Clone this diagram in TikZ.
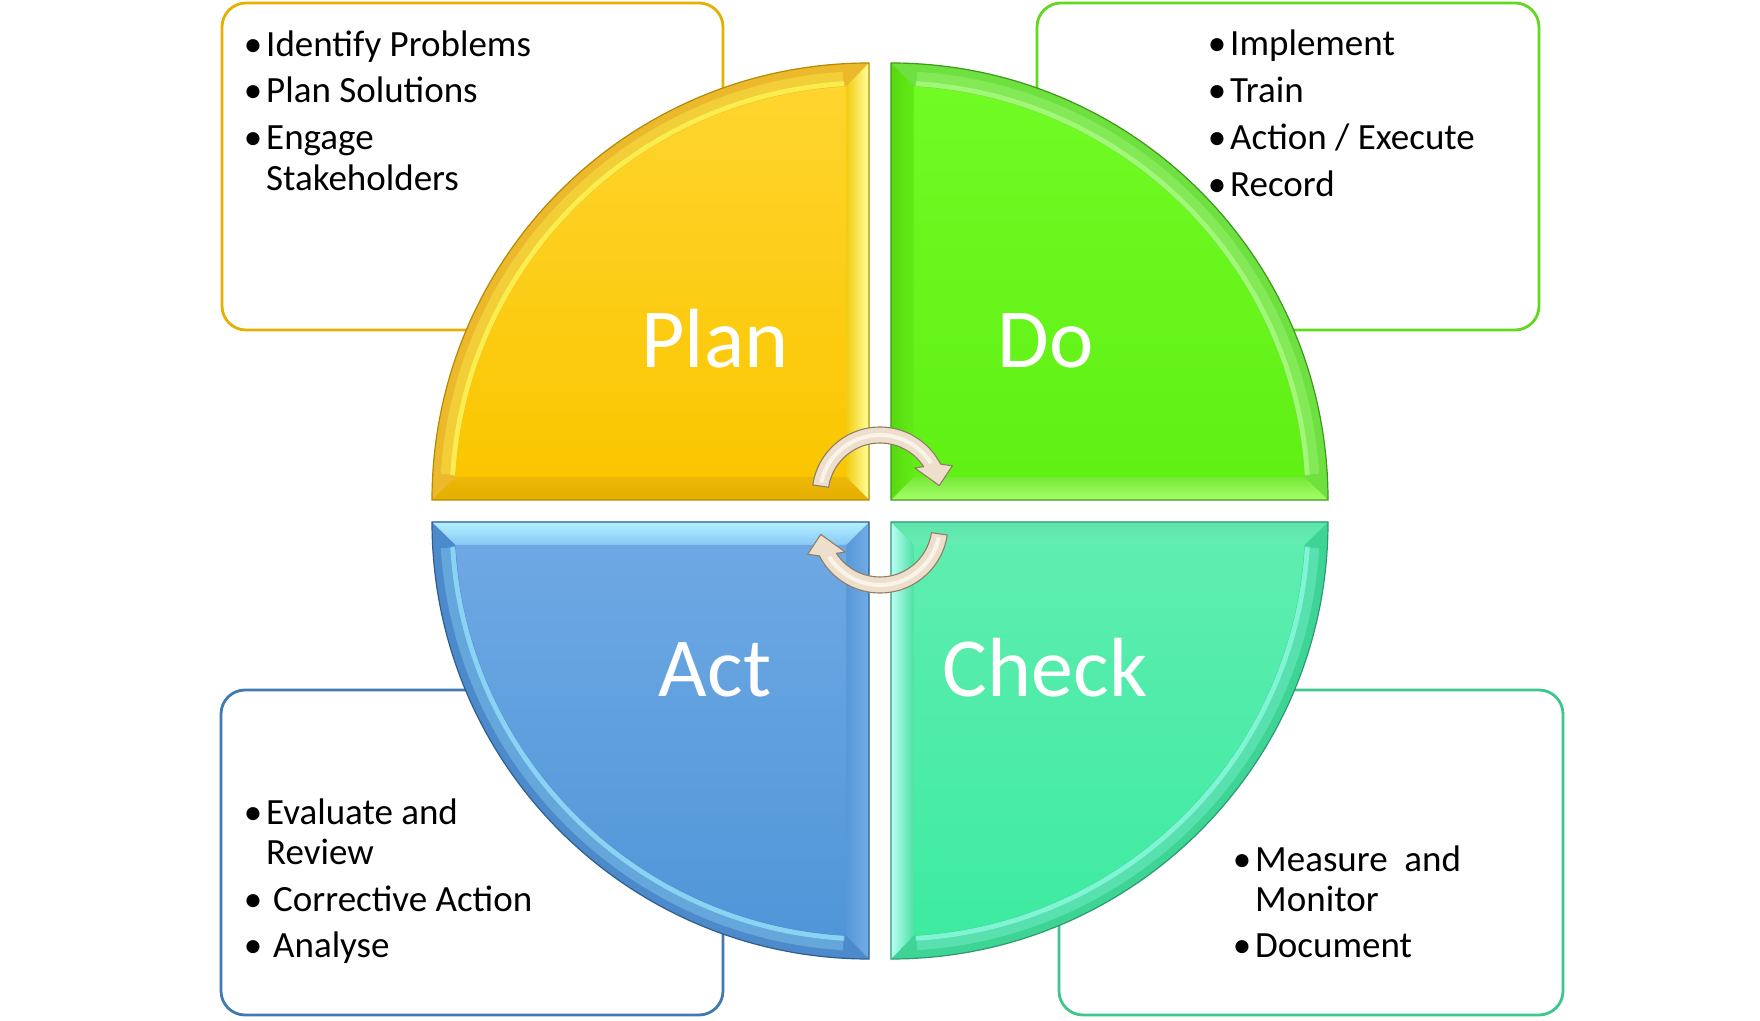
\documentclass[tikz,border=0pt]{standalone}
\usepackage{fontspec}
\setmainfont{Carlito}
\usetikzlibrary{calc}
\definecolor{planline}{HTML}{B38A00}
\definecolor{planarc}{HTML}{EDB92C}
\definecolor{planhi}{HTML}{FFFF5A}
\definecolor{planrl}{HTML}{F2CC10}
\definecolor{planrr}{HTML}{FFFFA0}
\definecolor{planbt}{HTML}{EDB808}
\definecolor{planbb}{HTML}{E4AE00}
\definecolor{planct}{HTML}{FFD52E}
\definecolor{plancb}{HTML}{FAC600}
\definecolor{doline}{HTML}{3C9A1A}
\definecolor{doarc}{HTML}{6EE040}
\definecolor{dohi}{HTML}{B4FF8C}
\definecolor{dol1}{HTML}{58D810}
\definecolor{dol2}{HTML}{62EC18}
\definecolor{dob1}{HTML}{78E838}
\definecolor{dob2}{HTML}{A4FF6A}
\definecolor{doct}{HTML}{70FB24}
\definecolor{docb}{HTML}{60F014}
\definecolor{actline}{HTML}{2F5E8E}
\definecolor{actarc}{HTML}{4C8ACB}
\definecolor{acthi}{HTML}{A0ECFF}
\definecolor{actr1}{HTML}{5898D8}
\definecolor{actr2}{HTML}{70ACE6}
\definecolor{actt1}{HTML}{B4F0FF}
\definecolor{actt2}{HTML}{88C8F4}
\definecolor{actct}{HTML}{6EA8E4}
\definecolor{actcb}{HTML}{5096D8}
\definecolor{chkline}{HTML}{2E9A70}
\definecolor{chkarc}{HTML}{3ED496}
\definecolor{chkhi}{HTML}{96FFEA}
\definecolor{chkl1}{HTML}{B8FFF4}
\definecolor{chkl2}{HTML}{4EE0A4}
\definecolor{chkt1}{HTML}{5EE4AA}
\definecolor{chkt2}{HTML}{66EEB4}
\definecolor{chkct}{HTML}{5EEDB0}
\definecolor{chkcb}{HTML}{3DEBA0}
\definecolor{boxP}{HTML}{E6B000}
\definecolor{boxD}{HTML}{62D81E}
\definecolor{boxA}{HTML}{4379B3}
\definecolor{boxC}{HTML}{3DC78C}
\definecolor{arrfill}{HTML}{EDDFCB}
\definecolor{arrline}{HTML}{8F7D66}
\definecolor{arrhi}{HTML}{FBF6EE}
\tikzset{
  tbox/.style={draw, line width=2.8pt, rounded corners=24pt, fill=white, inner sep=0pt},
  boxtxt/.style={anchor=base west, inner sep=0pt, text=black, font=\fontsize{37}{44}\selectfont},
  bul/.style={anchor=base, inner sep=0pt, text=black, font=\fontsize{37}{44}\selectfont},
  biglabel/.style={anchor=base, inner sep=0pt, text=white, font=\fontsize{84}{100}\selectfont},
  qline/.style={line width=1.2pt},
  hiline/.style={line width=5pt, opacity=0.65},
  softhi/.style={line width=14pt, opacity=0.3},
  cyclearrow/.style={fill=arrfill, draw=arrline, line width=1.1pt, line join=round},
  arrcore/.style={draw=arrhi, line width=4pt, opacity=0.9}
}
\begin{document}
\begin{tikzpicture}[x=1pt,y=1pt]
\useasboundingbox (0,0) rectangle (1760,1020);
\fill[white] (0,0) rectangle (1760,1020);

% text boxes (behind the quadrants)
\node[tbox, draw=boxP, minimum width=501pt, minimum height=327pt] (boxplan) at (472.5,853.5) {};
\node[tbox, draw=boxD, minimum width=502pt, minimum height=327pt] (boxdo) at (1288,853.5) {};
\node[tbox, draw=boxA, minimum width=502pt, minimum height=325pt] (boxact) at (472,167.5) {};
\node[tbox, draw=boxC, minimum width=504pt, minimum height=325pt] (boxcheck) at (1311,167.5) {};

\coordinate (P) at (869,520);
\coordinate (D) at (891,520);
\coordinate (A) at (869,498);
\coordinate (K) at (891,498);

% ---------- PLAN ----------
\fill[planarc] (869,520) -- (432,520) arc[start angle=180,end angle=90,radius=437pt] -- cycle;
\shade[left color=planrl, right color=planrr] (869,520) -- (869,957) -- (846,933.36) -- (846,543) -- cycle;
\shade[top color=planbt, bottom color=planbb] (869,520) -- (432,520) -- (455.64,543) -- (846,543) -- cycle;
\draw[softhi, planhi] ($(P)+(176.5:422pt)$) arc[start angle=176.5,end angle=93.5,radius=422pt];
\draw[hiline, planhi] ($(P)+(176.6:417pt)$) arc[start angle=176.6,end angle=93.4,radius=417pt];
\shade[top color=planct, bottom color=plancb] (846,543) -- (455.64,543) arc[start angle=176.816,end angle=93.184,radius=414pt] -- cycle;
\draw[qline, planline] (869,520) -- (432,520) arc[start angle=180,end angle=90,radius=437pt] -- cycle;

% ---------- DO ----------
\fill[doarc] (891,520) -- (1328,520) arc[start angle=0,end angle=90,radius=437pt] -- cycle;
\shade[left color=dol1, right color=dol2] (891,520) -- (891,957) -- (914,933.36) -- (914,543) -- cycle;
\shade[top color=dob1, bottom color=dob2] (891,520) -- (1328,520) -- (1304.36,543) -- (914,543) -- cycle;
\draw[softhi, dohi] ($(D)+(3.5:422pt)$) arc[start angle=3.5,end angle=86.5,radius=422pt];
\draw[hiline, dohi] ($(D)+(3.4:417pt)$) arc[start angle=3.4,end angle=86.6,radius=417pt];
\shade[top color=doct, bottom color=docb] (914,543) -- (1304.36,543) arc[start angle=3.184,end angle=86.816,radius=414pt] -- cycle;
\draw[qline, doline] (891,520) -- (1328,520) arc[start angle=0,end angle=90,radius=437pt] -- cycle;

% ---------- ACT ----------
\fill[actarc] (869,498) -- (432,498) arc[start angle=180,end angle=270,radius=437pt] -- cycle;
\shade[left color=actr1, right color=actr2] (869,498) -- (869,61) -- (846,84.64) -- (846,475) -- cycle;
\shade[top color=actt1, bottom color=actt2] (869,498) -- (432,498) -- (455.64,475) -- (846,475) -- cycle;
\draw[softhi, acthi] ($(A)+(183.5:422pt)$) arc[start angle=183.5,end angle=266.5,radius=422pt];
\draw[hiline, acthi] ($(A)+(183.4:417pt)$) arc[start angle=183.4,end angle=266.6,radius=417pt];
\shade[top color=actct, bottom color=actcb] (846,475) -- (455.64,475) arc[start angle=183.184,end angle=266.816,radius=414pt] -- cycle;
\draw[qline, actline] (869,498) -- (432,498) arc[start angle=180,end angle=270,radius=437pt] -- cycle;

% ---------- CHECK ----------
\fill[chkarc] (891,498) -- (1328,498) arc[start angle=0,end angle=-90,radius=437pt] -- cycle;
\shade[left color=chkl1, right color=chkl2] (891,498) -- (891,61) -- (914,84.64) -- (914,475) -- cycle;
\shade[top color=chkt1, bottom color=chkt2] (891,498) -- (1328,498) -- (1304.36,475) -- (914,475) -- cycle;
\draw[softhi, chkhi] ($(K)+(-3.5:422pt)$) arc[start angle=-3.5,end angle=-86.5,radius=422pt];
\draw[hiline, chkhi] ($(K)+(-3.4:417pt)$) arc[start angle=-3.4,end angle=-86.6,radius=417pt];
\shade[top color=chkct, bottom color=chkcb] (914,475) -- (1304.36,475) arc[start angle=-3.184,end angle=-86.816,radius=414pt] -- cycle;
\draw[qline, chkline] (891,498) -- (1328,498) arc[start angle=0,end angle=-90,radius=437pt] -- cycle;

% ---------- labels ----------
\node[biglabel] (plan) at (715,652) {Plan};
\node[biglabel] (do) at (1045.5,652) {Do};
\node[biglabel] (act) at (715,323) {Act};
\node[biglabel] (check) at (1045,323) {Check};

% ---------- cycle arrows ----------
\coordinate (ca) at (880,525);
\coordinate (cb) at (880,495);
\draw[cyclearrow] ($(ca)+(171.5:68pt)$) arc[start angle=171.5,end angle=27,radius=68pt]
  -- ($(ca)+(22:78pt)$) -- ($(ca)+(9:60pt)$) -- ($(ca)+(38:44pt)$) -- ($(ca)+(33:52pt)$)
  arc[start angle=33,end angle=171.5,radius=52pt] -- cycle;
\draw[arrcore] ($(ca)+(168:60pt)$) arc[start angle=168,end angle=32,radius=60pt];
\draw[cyclearrow] ($(cb)+(-8.5:68pt)$) arc[start angle=-8.5,end angle=-153,radius=68pt]
  -- ($(cb)+(-158:78pt)$) -- ($(cb)+(-171:60pt)$) -- ($(cb)+(-142:44pt)$) -- ($(cb)+(-147:52pt)$)
  arc[start angle=-147,end angle=-8.5,radius=52pt] -- cycle;
\draw[arrcore] ($(cb)+(-12:60pt)$) arc[start angle=-12,end angle=-148,radius=60pt];

% ---------- box texts ----------
\node[bul] (b1) at (253,963) {•};
\node[boxtxt] (t1) at (266,963) {Identify Problems};
\node[bul] (b2) at (253,917) {•};
\node[boxtxt] (t2) at (266,917) {Plan Solutions};
\node[bul] (b3) at (253,870) {•};
\node[boxtxt] (t3) at (266,870) {Engage};
\node[boxtxt] (t4) at (266,829) {Stakeholders};

\node[bul] (b5) at (1217,964) {•};
\node[boxtxt] (t5) at (1230,964) {Implement};
\node[bul] (b6) at (1217,917) {•};
\node[boxtxt] (t6) at (1230,917) {Train};
\node[bul] (b7) at (1217,870) {•};
\node[boxtxt] (t7) at (1230,870) {Action / Execute};
\node[bul] (b8) at (1217,823) {•};
\node[boxtxt] (t8) at (1230,823) {Record};

\node[bul] (b9) at (253,196) {•};
\node[boxtxt] (t9) at (266,196) {Evaluate and};
\node[boxtxt] (t10) at (266,156) {Review};
\node[bul] (b11) at (253,109) {•};
\node[boxtxt] (t11) at (273,109) {Corrective Action};
\node[bul] (b12) at (253,63) {•};
\node[boxtxt] (t12) at (273,63) {Analyse};

\node[bul] (b13) at (1242,149) {•};
\node[boxtxt] (t13) at (1255,149) {Measure~ and};
\node[boxtxt] (t14) at (1255,109) {Monitor};
\node[bul] (b15) at (1242,63) {•};
\node[boxtxt] (t15) at (1255,63) {Document};
\end{tikzpicture}
\end{document}
